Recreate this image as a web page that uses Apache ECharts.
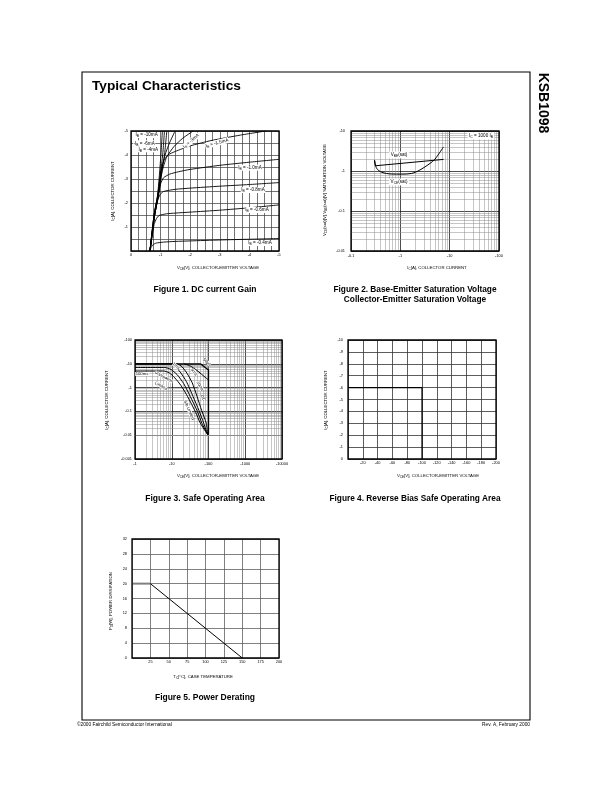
<!DOCTYPE html>
<html>
<head>
<meta charset="utf-8">
<script src="https://cdn.jsdelivr.net/npm/echarts@6.0.0/dist/echarts.min.js"></script>
<style>
html,body{margin:0;padding:0;background:#fff;}
#chart{width:612px;height:792px;}
</style>
</head>
<body>
<div id="chart"></div>
<script>
// ================= DATA =================
// Figure 1: collector current vs collector-emitter voltage (magnitudes; PNP -> negative labels)
const fig1XTickLabels = ['0','-1','-2','-3','-4','-5'];
const fig1YTickLabels = ['','-1','-2','-3','-4','-5'];
const fig1Ib10mA  = [[0.64,0],[0.78,1.5],[0.9,2.33],[1.01,4],[1.06,5]];
const fig1Ib6mA   = [[0.64,0],[0.78,1.5],[0.9,2.33],[1.07,4],[1.13,5]];
const fig1Ib4mA   = [[0.64,0],[0.78,1.5],[0.91,2.33],[1.13,4],[1.21,5]];
const fig1IbExtra = [[0.64,0],[0.79,1.5],[0.92,2.33],[1.0,3.2],[1.15,4],[1.3,4.5],[1.49,5]];
const fig1Ib3mA   = [[0.64,0],[0.8,1.5],[0.93,2.33],[1.05,3.3],[1.2,3.9],[1.45,4.35],[1.75,4.7],[2.1,5]];
const fig1Ib1p5mA = [[0.64,0],[0.8,1.5],[0.93,2.4],[1.02,3.3],[1.1,3.75],[1.25,4.0],[1.5,4.15],[2,4.38],[2.7,4.6],[3.7,4.83],[4.55,5.0]];
const fig1Ib1p0mA = [[0.64,0],[0.8,1.5],[0.92,2.3],[1.0,2.8],[1.1,3.05],[1.3,3.2],[1.6,3.3],[2,3.4],[3,3.57],[4,3.7],[5,3.82]];
const fig1Ib0p8mA = [[0.64,0],[0.8,1.5],[0.9,2.1],[0.98,2.35],[1.1,2.48],[1.5,2.57],[2,2.62],[3,2.7],[4,2.77],[5,2.85]];
const fig1Ib0p6mA = [[0.64,0],[0.78,1.1],[0.86,1.35],[0.95,1.48],[1.2,1.55],[1.5,1.58],[2,1.62],[3,1.7],[4,1.8],[5,1.92]];
const fig1Ib0p4mA = [[0.64,0],[0.68,0.15],[0.75,0.27],[0.85,0.33],[1.1,0.37],[1.5,0.4],[2,0.42],[3,0.46],[4,0.49],[5,0.52]];

// Figure 2: saturation voltages vs collector current (log-log, magnitudes)
const fig2XTickLabels = ['-0.1','-1','-10','-100'];
const fig2YTickLabels = ['-0.01','-0.1','-1','-10'];
const fig2VbeSat = [[0.3,1.85],[0.31,1.35],[7.5,1.95]];
const fig2VceSat = [[0.3,1.88],[0.33,1.17],[0.42,0.93],[0.67,0.84],[1.07,0.835],[1.7,0.87],[2.5,1.06],[4.0,1.55],[5.0,1.96],[7.5,4.0]];

// Figure 3: safe operating area (log-log, magnitudes)
const fig3XTickLabels = ['-1','-10','-100','-1000','-10000'];
const fig3YTickLabels = ['-0.001','-0.01','-0.1','-1','-10','-100'];
const fig3Envelope = [[1,10],[60,10],[100,5.5],[100,0.0105]];
const fig3Curve10ms = [[22,10],[35,7.5],[55,4.5],[75,3],[100,2.1]];
const fig3Bundle1 = [[1,10],[9,10],[12,8],[17,4.5],[25,1.8],[38,0.42],[55,0.11],[74,0.032],[95,0.0105]];
const fig3Bundle2 = [[1,7],[6.5,7],[9.5,5.8],[14,3.5],[21,1.5],[32,0.42],[50,0.1],[66,0.032],[95,0.0105]];
const fig3Bundle3 = [[1,5],[6,5],[8.5,4.2],[12,2.6],[18,1.2],[27,0.42],[45,0.09],[60,0.032],[95,0.0105]];
const fig3Bundle4 = [[1,10],[14,10],[19,7.5],[26,4],[36,1.6],[49,0.42],[65,0.11],[87,0.032],[95,0.0105]];

// Figure 4: reverse bias SOA
const fig4XTickLabels = ['','-20','-40','-60','-80','-100','-120','-140','-160','-180','-200'];
const fig4YTickLabels = ['0','-1','-2','-3','-4','-5','-6','-7','-8','-9','-10'];
const fig4Rbsoa = [[0,6],[100,6],[100,0]];

// Figure 5: power derating
const fig5XTickLabels = ['','25','50','75','100','125','150','175','200'];
const fig5YTickLabels = ['0','4','8','12','16','20','24','28','32'];
const fig5Flat = [[0,20],[25,20]];
const fig5Derate = [[25,20],[150,0]];

// ================= LAYOUT / HELPERS =================
const FONT = '"Liberation Sans", Arial, Helvetica, sans-serif';
const layout = [
  {left:131, top:131, width:148, height:120},
  {left:351, top:131, width:148, height:120},
  {left:135, top:340, width:147, height:119},
  {left:348, top:340, width:148, height:119},
  {left:132, top:539, width:147, height:119}
];
function stepLabel(arr, step){
  return v => { const i = Math.round(v/step); return (Math.abs(v - i*step) < 1e-6 && arr[i] !== undefined) ? arr[i] : ''; };
}
function logLabel(arr, min){
  return v => { const i = Math.round(Math.log10(v) - Math.log10(min)); return arr[i] !== undefined ? arr[i] : ''; };
}
function minors(lo, hi){
  const out = [];
  for (let e = lo; e < hi; e++) for (let k = 2; k <= 9; k++) out.push(+(k*Math.pow(10,e)).toPrecision(3));
  return out;
}
const tickFont = {fontSize:3.9, color:'#000', fontFamily:FONT};
function valAxis(gi, min, max, interval, labels, step, margin, color, width){
  return {gridIndex:gi, type:'value', min, max, interval,
    axisLine:{show:false}, axisTick:{show:false},
    splitLine:{show:true, lineStyle:{color, width}},
    axisLabel:Object.assign({}, tickFont, {margin, formatter:stepLabel(labels, step), showMinLabel:true, showMaxLabel:true})};
}
function logAxis(gi, min, max, splitNumber, labels, margin){
  return {gridIndex:gi, type:'log', logBase:10, min, max, splitNumber,
    axisLine:{show:false}, axisTick:{show:false},
    splitLine:{show:true, lineStyle:{color:'#000', width:0.7}},
    axisLabel:Object.assign({}, tickFont, {margin, formatter:logLabel(labels, min), showMinLabel:true, showMaxLabel:true})};
}
function curve(gi, data, opt){
  opt = opt || {};
  return {type:'line', xAxisIndex:gi, yAxisIndex:gi, data, symbol:'none', silent:true, z:5,
    smooth: opt.smooth || 0,
    lineStyle:{color: opt.color || '#000', width: opt.width || 0.9}};
}
function minorGrid(gi, xs, ys, x0, y0){
  return {type:'line', xAxisIndex:gi, yAxisIndex:gi, data:[[x0,y0]], symbol:'none', silent:true, z:1,
    lineStyle:{opacity:0},
    markLine:{silent:true, symbol:['none','none'], label:{show:false}, animation:false,
      lineStyle:{color:'#8c8c8c', width:0.5, type:'solid'},
      emphasis:{disabled:true},
      data: xs.map(v => ({xAxis:v})).concat(ys.map(v => ({yAxis:v})))}};
}
function rich(size){
  return {
    n:{fontSize:size, fontFamily:FONT, lineHeight:size*1.3, fill:'#000'},
    s:{fontSize:size*0.72, fontFamily:FONT, lineHeight:size*0.75, verticalAlign:'bottom', fill:'#000'}
  };
}
function txt(x, y, text, o){
  o = o || {};
  const size = o.size || 4.5;
  return {type:'text', x, y, rotation:o.rot || 0, z:100, silent:true,
    style:{text, fill:'#000',
      font:(o.bold ? 'bold ' : '') + size + 'px ' + FONT,
      fontSize:size, fontFamily:FONT, fontWeight:o.bold ? 'bold' : 'normal',
      align:o.align || 'center', textAlign:o.align || 'center',
      verticalAlign:o.va || 'middle', textVerticalAlign:o.va || 'middle',
      rich:rich(size),
      backgroundColor:o.bg, padding:o.pad}};
}

// ================= CHART =================
const chart = echarts.init(document.getElementById('chart'), null, {renderer:'canvas'});

const graphics = [];
// page frame
graphics.push({type:'rect', z:90, silent:true, shape:{x:82, y:72, width:448, height:648}, style:{fill:'none', stroke:'#000', lineWidth:1.1}});
// plot frames
layout.forEach(l => graphics.push({type:'rect', z:90, silent:true, shape:{x:l.left, y:l.top, width:l.width, height:l.height}, style:{fill:'none', stroke:'#000', lineWidth:1.3}}));

// page texts
graphics.push(txt(92, 86, 'Typical Characteristics', {size:13.7, bold:true, align:'left'}));
graphics.push(txt(543, 103, 'KSB1098', {size:14, bold:true, rot:-Math.PI/2}));
graphics.push(txt(77, 725, '©2000 Fairchild Semiconductor International', {size:4.8, align:'left'}));
graphics.push(txt(530, 725, 'Rev. A, February 2000', {size:4.8, align:'right'}));

// captions
graphics.push(txt(205, 290, 'Figure 1. DC current Gain', {size:8.5, bold:true}));
graphics.push(txt(415, 290, 'Figure 2. Base-Emitter Saturation Voltage', {size:8.3, bold:true}));
graphics.push(txt(415, 300, 'Collector-Emitter Saturation Voltage', {size:8.3, bold:true}));
graphics.push(txt(205, 499, 'Figure 3. Safe Operating Area', {size:8.5, bold:true}));
graphics.push(txt(415, 499, 'Figure 4. Reverse Bias Safe Operating Area', {size:8.3, bold:true}));
graphics.push(txt(205, 698, 'Figure 5. Power Derating', {size:8.5, bold:true}));

// axis titles
const AT = 4.3;
graphics.push(txt(113, 191, '{n|I}{s|C}{n|[A], COLLECTOR CURRENT}', {size:AT, rot:Math.PI/2}));
graphics.push(txt(218, 268, '{n|V}{s|CE}{n|[V], COLLECTOR-EMITTER VOLTAGE}', {size:AT}));
graphics.push(txt(325, 190, '{n|V}{s|CE}{n|(sat)[V],V}{s|BE}{n|(sat)[V] SATURATION VOLTAGE}', {size:AT, rot:Math.PI/2}));
graphics.push(txt(437, 268, '{n|I}{s|C}{n|[A], COLLECTOR CURRENT}', {size:AT}));
graphics.push(txt(107, 400, '{n|I}{s|C}{n|[A], COLLECTOR CURRENT}', {size:AT, rot:Math.PI/2}));
graphics.push(txt(218, 476, '{n|V}{s|CE}{n|[V], COLLECTOR-EMITTER VOLTAGE}', {size:AT}));
graphics.push(txt(326, 400, '{n|I}{s|C}{n|[A], COLLECTOR CURRENT}', {size:AT, rot:Math.PI/2}));
graphics.push(txt(438, 476, '{n|V}{s|CE}{n|[V], COLLECTOR-EMITTER VOLTAGE}', {size:AT}));
graphics.push(txt(111, 601, '{n|P}{s|D}{n|[W], POWER DISSIPATION}', {size:AT, rot:Math.PI/2}));
graphics.push(txt(203, 677, '{n|T}{s|C}{n|[°C], CASE TEMPERATURE}', {size:AT}));

// figure 1 curve labels
const CL = 4.6;
const wb = {bg:'#fff', pad:[0,0.5,0,0.5]};
graphics.push(txt(135, 135, '{n|I}{s|B}{n| = -10mA}', Object.assign({size:CL, align:'left'}, wb)));
graphics.push(txt(133, 143.3, '{n|-I}{s|B}{n| = -6mA}', Object.assign({size:CL, align:'left'}, wb)));
graphics.push(txt(138, 149.3, '{n|I}{s|B}{n| = -4mA}', Object.assign({size:CL, align:'left'}, wb)));
graphics.push(txt(191, 141, '{n|I}{s|B}{n| = -3mA}', Object.assign({size:CL, rot:0.7}, wb)));
graphics.push(txt(217, 143, '{n|I}{s|B}{n| = -1.5mA}', Object.assign({size:CL, rot:0.26}, wb)));
graphics.push(txt(250, 167.7, '{n|I}{s|B}{n| = -1.0mA}', Object.assign({size:CL}, wb)));
graphics.push(txt(253, 190, '{n|I}{s|B}{n| = -0.8mA}', Object.assign({size:CL}, wb)));
graphics.push(txt(257, 210, '{n|I}{s|B}{n| = -0.6mA}', Object.assign({size:CL}, wb)));
graphics.push(txt(260, 243, '{n|I}{s|B}{n| = -0.4mA}', Object.assign({size:CL}, wb)));

// figure 2 labels
graphics.push(txt(399, 155, '{n|V}{s|BE}{n|(sat)}', {size:CL, bg:'#fff', pad:[0.5,1.5,0.5,1.5]}));
graphics.push(txt(399, 182, '{n|V}{s|CE}{n|(sat)}', {size:CL, bg:'#fff', pad:[0.5,1.5,0.5,1.5]}));
graphics.push(txt(481, 136, '{n|I}{s|C}{n| = 1000 I}{s|B}', {size:CL, bg:'#fff', pad:[0.5,1.5,0.5,1.5]}));

// figure 3 labels
const F3 = 4.2;
graphics.push(txt(142, 374, '100ms', {size:F3, bg:'#fff', pad:[0,0.5,0,0.5]}));
graphics.push(txt(164, 377, 'Dissipation', {size:F3, rot:-0.5, bg:'#fff'}));
graphics.push(txt(161, 386, 'Limited', {size:F3, rot:-0.5, bg:'#fff'}));
graphics.push(txt(176, 366, '1ms', {size:F3, rot:-0.7, bg:'#fff'}));
graphics.push(txt(207, 362, '50\u00b5s', {size:F3, rot:-0.7, bg:'#fff'}));
graphics.push(txt(194, 372, '5ms', {size:F3, rot:-0.95, bg:'#fff'}));
graphics.push(txt(200, 386, '10ms', {size:F3, rot:-1.05, bg:'#fff'}));
graphics.push(txt(203, 398, 'DC', {size:F3, rot:-1.1, bg:'#fff'}));
graphics.push(txt(189, 410, 'S/b Limited', {size:F3, rot:-1.15, bg:'#fff'}));

const option = {
  backgroundColor:'#fff',
  animation:false,
  grid: layout.map(l => Object.assign({show:false, containLabel:false}, l)),
  xAxis:[
    valAxis(0, 0, 5, 0.25, fig1XTickLabels, 1, 2, '#444', 0.75),
    logAxis(1, 0.1, 100, 3, fig2XTickLabels, 3),
    logAxis(2, 1, 10000, 4, fig3XTickLabels, 3),
    valAxis(3, 0, 200, 20, fig4XTickLabels, 20, 2, '#333', 0.8),
    valAxis(4, 0, 200, 25, fig5XTickLabels, 25, 2, '#555', 0.75)
  ],
  yAxis:[
    valAxis(0, 0, 5, 0.5, fig1YTickLabels, 1, 3, '#444', 0.75),
    logAxis(1, 0.01, 10, 3, fig2YTickLabels, 6),
    logAxis(2, 0.001, 100, 5, fig3YTickLabels, 3),
    valAxis(3, 0, 10, 1, fig4YTickLabels, 1, 5, '#333', 0.8),
    valAxis(4, 0, 32, 4, fig5YTickLabels, 4, 5, '#555', 0.75)
  ],
  series:[
    // fig 1
    curve(0, fig1Ib10mA, {smooth:0.2}),
    curve(0, fig1Ib6mA, {smooth:0.2}),
    curve(0, fig1Ib4mA, {smooth:0.2}),
    curve(0, fig1IbExtra, {smooth:0.2}),
    curve(0, fig1Ib3mA, {smooth:0.2}),
    curve(0, fig1Ib1p5mA, {smooth:0.2}),
    curve(0, fig1Ib1p0mA, {smooth:0.2}),
    curve(0, fig1Ib0p8mA, {smooth:0.2}),
    curve(0, fig1Ib0p6mA, {smooth:0.2}),
    curve(0, fig1Ib0p4mA, {smooth:0.2}),
    // fig 2
    minorGrid(1, minors(-1, 2), minors(-2, 1), 0.1, 0.01),
    curve(1, fig2VbeSat, {width:1}),
    curve(1, fig2VceSat, {smooth:0.3, width:1}),
    // fig 3
    minorGrid(2, minors(0, 4), minors(-3, 2), 1, 0.001),
    curve(2, fig3Envelope, {width:1.3}),
    curve(2, fig3Curve10ms, {smooth:0.3, width:1}),
    curve(2, fig3Bundle1, {smooth:0.2, width:1}),
    curve(2, fig3Bundle2, {smooth:0.2, width:1}),
    curve(2, fig3Bundle3, {smooth:0.2, width:1}),
    curve(2, fig3Bundle4, {smooth:0.2, width:1}),
    // fig 4
    curve(3, fig4Rbsoa, {width:1.2}),
    // fig 5
    curve(4, fig5Flat, {width:2, color:'#808080'}),
    curve(4, fig5Derate, {width:1})
  ],
  graphic:{elements:graphics}
};
chart.setOption(option);
</script>
</body>
</html>
